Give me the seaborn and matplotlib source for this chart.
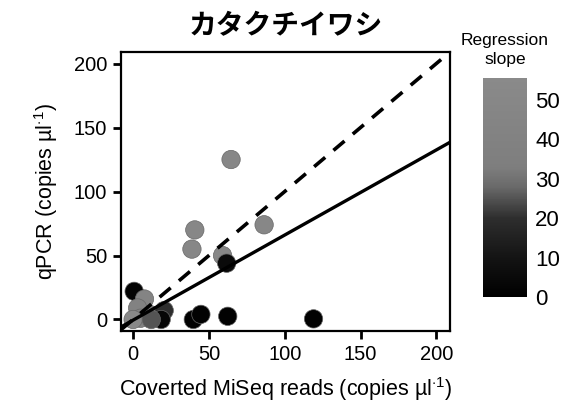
import matplotlib
matplotlib.use("Agg")
import matplotlib.pyplot as plt
import seaborn as sns
import pandas as pd
from matplotlib.colors import LinearSegmentedColormap, Normalize
from matplotlib.cm import ScalarMappable

# data
miseq = [64.6, 40.7, 38.8, 86.4, 59.0, 61.7, 0.7, 39.7, 44.7, 62.4, 119.0,
         7.5, 3.0, 12.0, 20.5, 18.5, 5.0, 0.0, 12.0]
qpcr = [125.0, 70.0, 55.0, 74.0, 50.0, 44.0, 22.0, 0.0, 4.0, 2.5, 0.5,
        16.0, 9.0, 3.5, 7.0, 0.0, 1.0, 0.0, 0.0]
slope = [50, 50, 50, 50, 50, 5, 2, 1, 1, 1, 1,
         45, 40, 45, 20, 3, 40, 52, 25]
fit_slope = 0.665
fit_intercept = -0.5
cbar_ticks = [0, 10, 20, 30, 40, 50]
axis_ticks = [0, 50, 100, 150, 200]

sns.set_theme(style="white")
plt.rcParams['font.family'] = ['Liberation Sans', 'Noto Sans CJK JP', 'DejaVu Sans']
plt.rcParams['mathtext.fontset'] = 'custom'
plt.rcParams['mathtext.rm'] = 'Liberation Sans'
plt.rcParams['text.color'] = 'black'
plt.rcParams['axes.labelcolor'] = 'black'
plt.rcParams['xtick.color'] = 'black'
plt.rcParams['ytick.color'] = 'black'

df = pd.DataFrame({'miseq': miseq, 'qpcr': qpcr, 'slope': slope})

cmap = LinearSegmentedColormap.from_list(
    'slope_grey',
    [(0.0, '#000000'), (10 / 55.5, '#141414'), (20 / 55.5, '#2e2e2e'),
     (28 / 55.5, '#6a6a6a'), (33 / 55.5, '#7e7e7e'), (1.0, '#8a8a8a')])
norm = Normalize(0, 55.5)

fig = plt.figure(figsize=(5.75, 4.07), dpi=100)
ax = fig.add_axes([0.2104, 0.1867, 0.5722, 0.6855])

sns.scatterplot(data=df, x='miseq', y='qpcr', hue='slope', palette=cmap,
                hue_norm=norm, s=175, edgecolor='#666666', linewidth=0.5,
                legend=False, ax=ax, zorder=3)

ax.axline((0, 0), slope=1, color='black', lw=2.6, ls=(0, (4, 3)), zorder=4)
ax.axline((0, fit_intercept), slope=fit_slope, color='black', lw=2.4, zorder=4)

ax.set_xlim(-8, 209)
ax.set_ylim(-9, 209)
ax.set_xticks(axis_ticks)
ax.set_yticks(axis_ticks)
ax.tick_params(direction='out', length=6, width=2, color='black',
               labelsize=14.5, pad=4, bottom=True, left=True)
for sp in ax.spines.values():
    sp.set_color('black')
    sp.set_linewidth(1.6)

ax.set_xlabel('Coverted MiSeq reads (copies µl$^{\\cdot 1}$)', fontsize=15.5, labelpad=8)
ax.set_ylabel('qPCR (copies µl$^{\\cdot 1}$)', fontsize=15.5, labelpad=10)
ax.set_title('カタクチイワシ', fontsize=20, fontweight='bold',
             family=['Noto Sans CJK JP'], pad=13)

# colour bar
cax = fig.add_axes([0.840, 0.2703, 0.0765, 0.538])
sm = ScalarMappable(norm=norm, cmap=cmap)
cbar = fig.colorbar(sm, cax=cax, ticks=cbar_ticks)
cbar.outline.set_visible(False)
cax.tick_params(direction='in', length=5, width=1.2, color='white',
                labelcolor='black', labelsize=16, left=True, right=True, pad=6)
cax.text(0.5, 1.05, 'Regression\nslope', transform=cax.transAxes,
         ha='center', va='bottom', fontsize=12.5, linespacing=1.3)

fig.savefig('out.png', dpi=100)
plt.close()
